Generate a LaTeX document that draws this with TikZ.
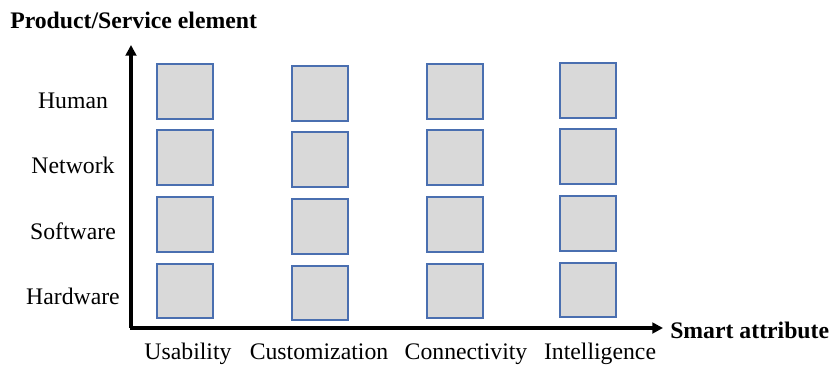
\documentclass[tikz,border=0pt]{standalone}
\usepackage{fontspec}
\setmainfont{Liberation Serif}
\usetikzlibrary{arrows.meta}
\definecolor{boxfill}{HTML}{D9D9D9}
\definecolor{boxline}{HTML}{4A6FB0}
\begin{document}
\begin{tikzpicture}[x=0.75pt,y=-0.75pt,
  cell/.style={draw=boxline,fill=boxfill,line width=1.3pt,minimum width=41.5pt,minimum height=41pt,inner sep=0pt},
  lbl/.style={font=\fontsize{17.8}{20}\selectfont,inner sep=0pt},
  axlbl/.style={font=\fontsize{17.8}{20}\selectfont\bfseries,inner sep=0pt},
  axis/.style={line width=2.3pt,-{Triangle[length=8pt,width=8pt]}}]
\useasboundingbox (0,0) rectangle (834,365);
% boxes: columns
\foreach \c/\x/\dy in {1/185/0,2/320/2,3/455/0,4/588/-1}{
  \foreach \r/\y in {1/91.5,2/157.5,3/224.5,4/291}{
    \node[cell] (b\c\r) at (\x,\y+\dy) {};
  }
}
% axes
\coordinate (o) at (131,328);
\coordinate (ytop) at (131,45);
\coordinate (xend) at (663,328);
\draw[axis] (o) -- (ytop);
\draw[axis] ([xshift=-1pt]o) -- (xend);
% axis titles
\node[axlbl,anchor=west] (yt) at (10,20) {Product/Service element};
\node[axlbl,anchor=west] (xt) at (670,330) {Smart attribute};
% row labels
\node[lbl,anchor=base] (h) at (73,108) {Human};
\node[lbl,anchor=base] (n) at (73,173) {Network};
\node[lbl,anchor=base] (s) at (73,239) {Software};
\node[lbl,anchor=base] (hw) at (73,304) {Hardware};
% column labels
\node[lbl,anchor=base] (u) at (188,359) {Usability};
\node[lbl,anchor=base] (cu) at (319,359) {Customization};
\node[lbl,anchor=base] (co) at (466,359) {Connectivity};
\node[lbl,anchor=base] (in) at (600,359) {Intelligence};
\end{tikzpicture}
\end{document}
